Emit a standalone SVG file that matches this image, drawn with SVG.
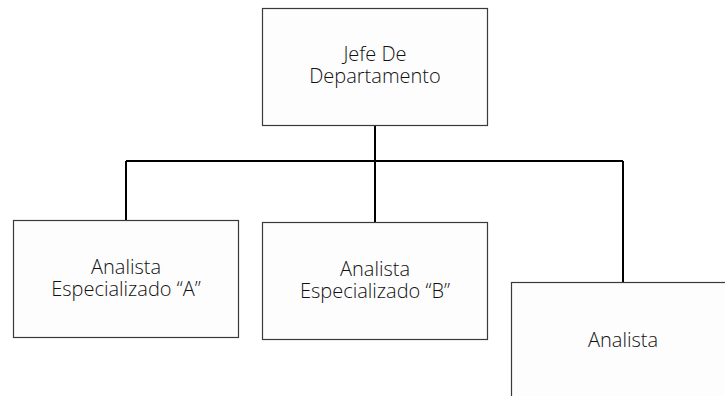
<svg xmlns="http://www.w3.org/2000/svg" width="725" height="396" viewBox="0 0 725 396">
<style>
.box{fill:#fdfdfd;stroke:#3a3a3a;stroke-width:1.2}
.t{font-family:"Open Sans","Liberation Sans",sans-serif;font-weight:300;font-size:20px;fill:#111;text-anchor:middle}
.c{fill:none;stroke:#000;stroke-width:2}
</style>
<rect width="725" height="396" fill="#fff"/>
<g id="connectors">
<path class="c" d="M375 126V161M126 161H623M126 161V220M375 161V222M623 161V282"/>
</g>
<g id="jefe">
<rect class="box" x="262.5" y="8.5" width="225" height="117"/>
<text class="t" x="375" y="61">Jefe De</text>
<text class="t" x="375" y="83">Departamento</text>
</g>
<g id="analistaA">
<rect class="box" x="13.5" y="220.5" width="225" height="117"/>
<text class="t" x="126" y="274">Analista</text>
<text class="t" x="126" y="296">Especializado “A”</text>
</g>
<g id="analistaB">
<rect class="box" x="262.5" y="222.5" width="225" height="117"/>
<text class="t" x="375" y="276">Analista</text>
<text class="t" x="375" y="298">Especializado “B”</text>
</g>
<g id="analista">
<rect class="box" x="511.5" y="282.5" width="225" height="130"/>
<text class="t" x="623" y="347">Analista</text>
</g>
</svg>
